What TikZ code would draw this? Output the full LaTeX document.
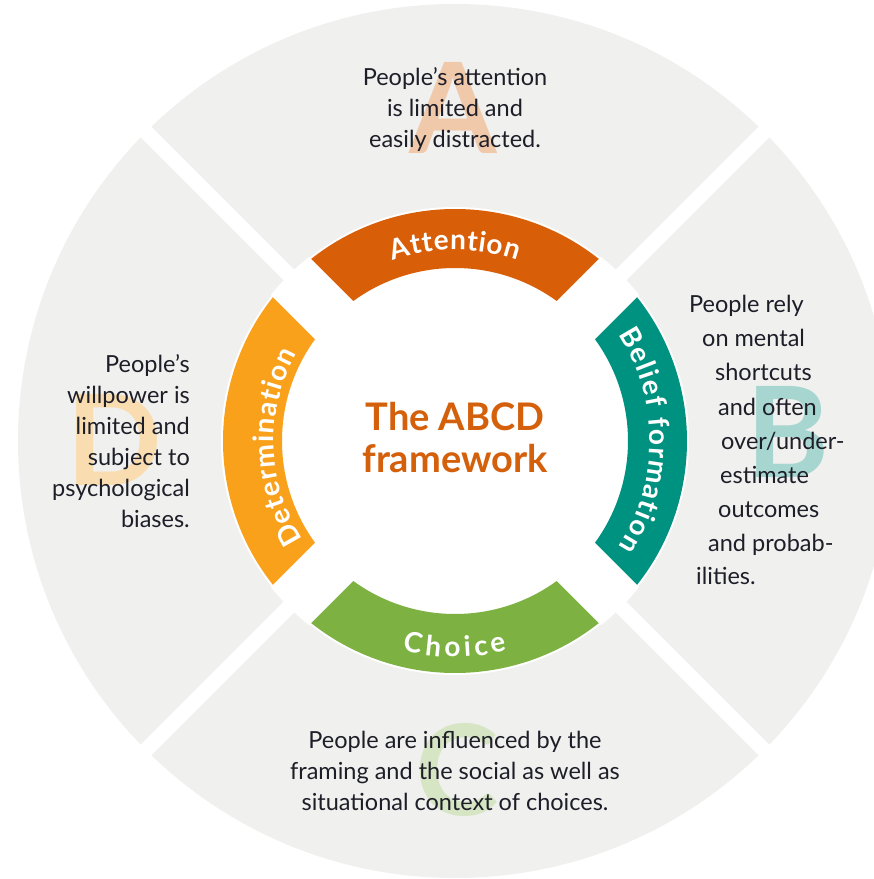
\documentclass[tikz,border=0pt]{standalone}
\usepackage{fontspec}
\setmainfont{Lato}
\usetikzlibrary{decorations.text}

\definecolor{attcol}{RGB}{217,94,8}
\definecolor{belcol}{RGB}{0,146,128}
\definecolor{chocol}{RGB}{125,178,66}
\definecolor{detcol}{RGB}{250,161,28}
\definecolor{discgrey}{RGB}{240,240,239}
\definecolor{ltrA}{RGB}{240,200,170}
\definecolor{ltrB}{RGB}{166,214,207}
\definecolor{ltrC}{RGB}{214,229,196}
\definecolor{ltrD}{RGB}{249,221,176}
\definecolor{titlecol}{RGB}{212,96,12}
\definecolor{inkcol}{RGB}{30,30,40}

\newcommand{\bodyfont}{\fontsize{23.5}{31}\selectfont}
\newcommand{\bandfont}{\fontsize{28}{28}\selectfont\bfseries}
\newcommand{\titlefont}{\fontsize{38}{42}\selectfont\bfseries}
\newcommand{\wmfont}{\fontsize{126}{126}\selectfont\bfseries}

\begin{document}
\begin{tikzpicture}[x=1pt,y=1pt,
    bodytext/.style={inner sep=0pt, text=inkcol, font=\bodyfont},
    watermark/.style={inner sep=0pt, font=\wmfont},
    bandlabel/.style={decorate, decoration={text along path, text={|\bandfont|#1}, text color=white, text align=fit to path}}]
        \useasboundingbox (-455,-438) rectangle (419,441);
        \clip (-455,-438) rectangle (419,441);

        %Shape: Circle [outer disc]
        \fill[discgrey] (0,0) circle (437);
        %Shape: Circle [inner white disc]
        \fill[white] (0,0) circle (234);

        %Shape: Arc [Attention]
        \fill[attcol] (45:173) arc[start angle=45,end angle=135,radius=173] -- (135:232) arc[start angle=135,end angle=45,radius=232] -- cycle;
        %Shape: Arc [Belief formation]
        \fill[belcol] (-45:173) arc[start angle=-45,end angle=45,radius=173] -- (45:232) arc[start angle=45,end angle=-45,radius=232] -- cycle;
        %Shape: Arc [Choice]
        \fill[chocol] (225:173) arc[start angle=225,end angle=315,radius=173] -- (315:232) arc[start angle=315,end angle=225,radius=232] -- cycle;
        %Shape: Arc [Determination]
        \fill[detcol] (135:173) arc[start angle=135,end angle=225,radius=173] -- (225:232) arc[start angle=225,end angle=135,radius=232] -- cycle;

        %Straight Lines [cuts between the bands]
        \begin{scope}
            \clip (0,0) circle (235);
            \draw[white, line width=54] (-240,-240) -- (240,240);
            \draw[white, line width=54] (-240,240) -- (240,-240);
        \end{scope}
        %Straight Lines [gaps between the quarters]
        \draw[white, line width=15] (-460,-460) -- (460,460);
        \draw[white, line width=15] (-460,460) -- (460,-460);

        % Big letters
        \node[watermark, text=ltrA] (wmA) at (-2,333) {A};
        \node[watermark, text=ltrB] (wmB) at (333,9) {B};
        \node[watermark, text=ltrC] (wmC) at (2,-329) {C};
        \node[watermark, text=ltrD] (wmD) at (-341,1) {D};

        % Text Node
        \node[bodytext, align=center] (txtA) at (0,331) {People’s attention\\is limited and\\easily distracted.};
        % Text Node
        \node[bodytext, align=center] (txtC) at (0,-330) {People are influenced by the\\framing and the social as well as\\situational context of choices.};
        % Text Node
        \node[bodytext, align=right, anchor=east] (txtD) at (-265,0) {People’s\\willpower is\\limited and\\subject to\\psychological\\biases.};
        % Text Node
        \node[bodytext, anchor=base west] (txtBa) at (234,129) {People rely};
        \node[bodytext, anchor=base west] (txtBb) at (247,95) {on mental};
        \node[bodytext, anchor=base west] (txtBc) at (260,61) {shortcuts};
        \node[bodytext, anchor=base west] (txtBd) at (263,26) {and often};
        \node[bodytext, anchor=base west] (txtBe) at (266,-8) {over/under-};
        \node[bodytext, anchor=base west] (txtBf) at (265,-42) {estimate};
        \node[bodytext, anchor=base west] (txtBg) at (263,-76) {outcomes};
        \node[bodytext, anchor=base west] (txtBh) at (253,-110) {and probab-};
        \node[bodytext, anchor=base west] (txtBi) at (241,-143) {ilities.};

        % Text Node
        \node[font=\titlefont, text=titlecol, align=center, inner sep=0pt] (title) at (0,3) {The ABCD\\framework};

        % Band labels
        \path[bandlabel=Attention] (109:191) arc[start angle=109,end angle=71,radius=191];
        \path[bandlabel=Belief formation] (33:195) arc[start angle=33,end angle=-33,radius=195];
        \path[bandlabel=Choice] (256:216) arc[start angle=256,end angle=284,radius=216];
        \path[bandlabel=Determination] (213:181) arc[start angle=213,end angle=151,radius=181];

    \end{tikzpicture}
\end{document}
